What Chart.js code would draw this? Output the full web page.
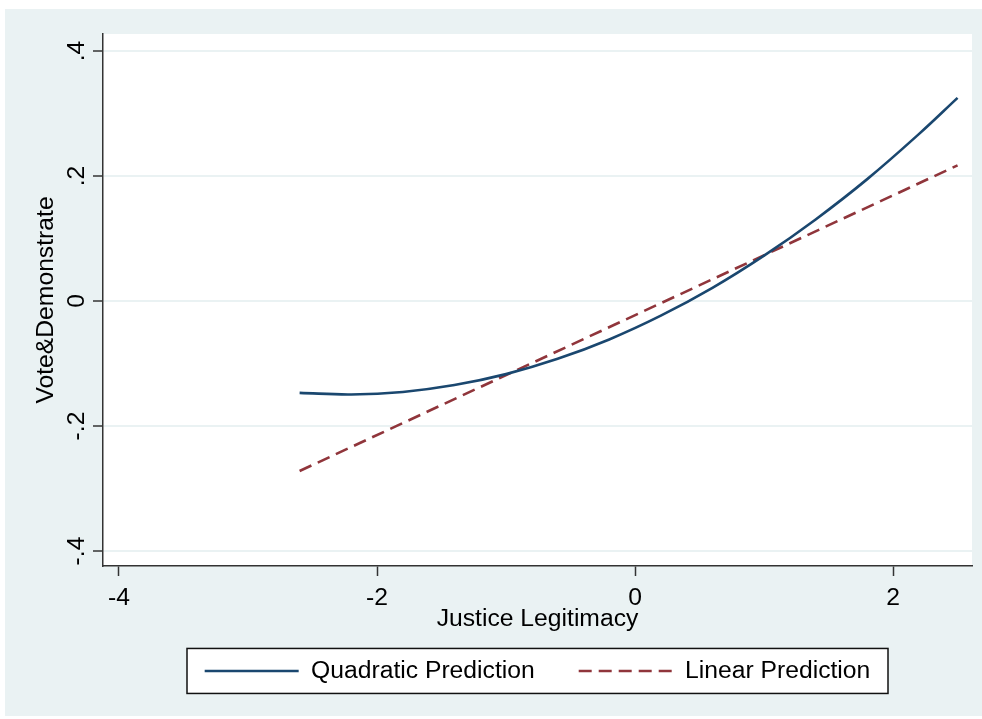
<!DOCTYPE html>
<html>
<head>
<meta charset="utf-8">
<script src="https://cdn.jsdelivr.net/npm/chart.js@4/dist/chart.umd.min.js"></script>
<style>
  html, body { margin: 0; padding: 0; background: #ffffff; }
  #wrap { width: 982px; height: 719px; }
</style>
</head>
<body>
<div id="wrap"><canvas id="c" width="982" height="719"></canvas></div>
<script>
// ---- data ----
const quadX = [-2.6, -2.2, -1.8, -1.4, -1.0, -0.6, -0.2, 0.2, 0.6, 1.0, 1.4, 1.8, 2.2, 2.5];
const quadY = [-0.147, -0.1495, -0.1455, -0.1345, -0.117, -0.0925, -0.0615, -0.0235, 0.021, 0.0725, 0.1305, 0.195, 0.267, 0.325];
const linX = [-2.6, 2.5];
const linY = [-0.272, 0.217];
const seriesNames = ['Quadratic Prediction', 'Linear Prediction'];
const xTicks = [-4, -2, 0, 2];
const yTicks = [-0.4, -0.2, 0, 0.2, 0.4];
const yTickLabels = ['-.4', '-.2', '0', '.2', '.4'];
const xTitle = 'Justice Legitimacy';
const yTitle = 'Vote&Demonstrate';

const FONT = "'Liberation Sans', Arial, Helvetica, sans-serif";
const FS = 24.7;
const BG = '#EAF2F3';
const AXIS = '#333333';
const LW = 2.6;

const bgPlugin = {
  id: 'stataBg',
  beforeDraw(chart) {
    const ctx = chart.ctx;
    const a = chart.chartArea;
    ctx.save();
    ctx.fillStyle = '#ffffff';
    ctx.fillRect(0, 0, chart.width, chart.height);
    ctx.fillStyle = BG;
    ctx.fillRect(5, 9, chart.width - 5, 707);
    ctx.fillStyle = '#ffffff';
    ctx.fillRect(a.left, a.top, a.right - a.left, a.bottom - a.top);
    // legend frame
    const lg = chart.legend;
    if (lg) {
      const cy = lg.top + lg.options.labels.padding + FS / 2;
      const cx = (a.left + a.right) / 2;
      ctx.fillStyle = '#ffffff';
      ctx.fillRect(cx - 350.5, cy - 22.5, 701, 45);
      ctx.strokeStyle = '#111111';
      ctx.lineWidth = 1.5;
      ctx.strokeRect(cx - 350.5, cy - 22.5, 701, 45);
    }
    ctx.restore();
  }
};

new Chart(document.getElementById('c'), {
  type: 'line',
  data: {
    datasets: [
      {
        label: seriesNames[0],
        data: quadX.map((x, i) => ({ x: x, y: quadY[i] })),
        borderColor: '#1A476F',
        backgroundColor: '#1A476F',
        borderWidth: LW,
        pointRadius: 0,
        tension: 0.4,
        fill: false
      },
      {
        label: seriesNames[1],
        data: linX.map((x, i) => ({ x: x, y: linY[i] })),
        borderColor: '#90353B',
        backgroundColor: '#90353B',
        borderWidth: LW,
        borderDash: [13, 7],
        pointRadius: 0,
        tension: 0,
        fill: false
      }
    ]
  },
  options: {
    responsive: false,
    animation: false,
    devicePixelRatio: 1,
    layout: { padding: { left: 0, top: 34, right: 10, bottom: 25.7 } },
    plugins: {
      tooltip: { enabled: false },
      legend: {
        position: 'bottom',
        fullSize: false,
        labels: {
          usePointStyle: true,
          pointStyle: 'line',
          pointStyleWidth: 94,
          padding: 44,
          color: '#000000',
          font: { family: FONT, size: FS },
          generateLabels(chart) {
            const items = Chart.defaults.plugins.legend.labels.generateLabels(chart);
            items.forEach((it) => {
              const ds = chart.data.datasets[it.datasetIndex];
              it.lineDash = ds.borderDash || [];
              it.lineWidth = ds.borderWidth;
              it.strokeStyle = ds.borderColor;
              it.fillStyle = ds.borderColor;
              it.pointStyle = 'line';
            });
            return items;
          }
        }
      }
    },
    scales: {
      x: {
        type: 'linear',
        min: -4.124,
        max: 2.612,
        afterBuildTicks(scale) { scale.ticks = xTicks.map(v => ({ value: v })); },
        afterFit(scale) { scale.height = 48.6; },
        ticks: {
          padding: 7.7,
          color: '#000000',
          font: { family: FONT, size: FS },
          maxRotation: 0,
          minRotation: 0,
          callback: (v) => String(v)
        },
        grid: {
          drawOnChartArea: false,
          drawTicks: true,
          tickLength: 10,
          tickColor: AXIS,
          tickWidth: 1.5
        },
        border: { display: true, color: AXIS, width: 1.5 },
        title: {
          display: true,
          text: xTitle,
          color: '#000000',
          font: { family: FONT, size: FS },
          padding: { top: 0, bottom: -19.8 }
        }
      },
      y: {
        type: 'linear',
        min: -0.424,
        max: 0.4272,
        afterBuildTicks(scale) { scale.ticks = yTicks.map(v => ({ value: v })); },
        afterFit(scale) { scale.width = 103; },
        ticks: {
          padding: 1.6,
          color: '#000000',
          crossAlign: 'center',
          minRotation: 90,
          maxRotation: 90,
          font: { family: FONT, size: FS },
          callback: (v) => {
            const i = yTicks.findIndex(t => Math.abs(t - v) < 1e-9);
            return i >= 0 ? yTickLabels[i] : '';
          }
        },
        grid: {
          drawOnChartArea: true,
          color: BG,
          lineWidth: 2,
          drawTicks: true,
          tickLength: 10,
          tickColor: AXIS,
          tickWidth: 1.5
        },
        border: { display: true, color: AXIS, width: 1.5 },
        title: {
          display: true,
          text: yTitle,
          color: '#000000',
          font: { family: FONT, size: FS },
          padding: { top: 31.7, bottom: 0 }
        }
      }
    }
  },
  plugins: [bgPlugin]
});
</script>
</body>
</html>
